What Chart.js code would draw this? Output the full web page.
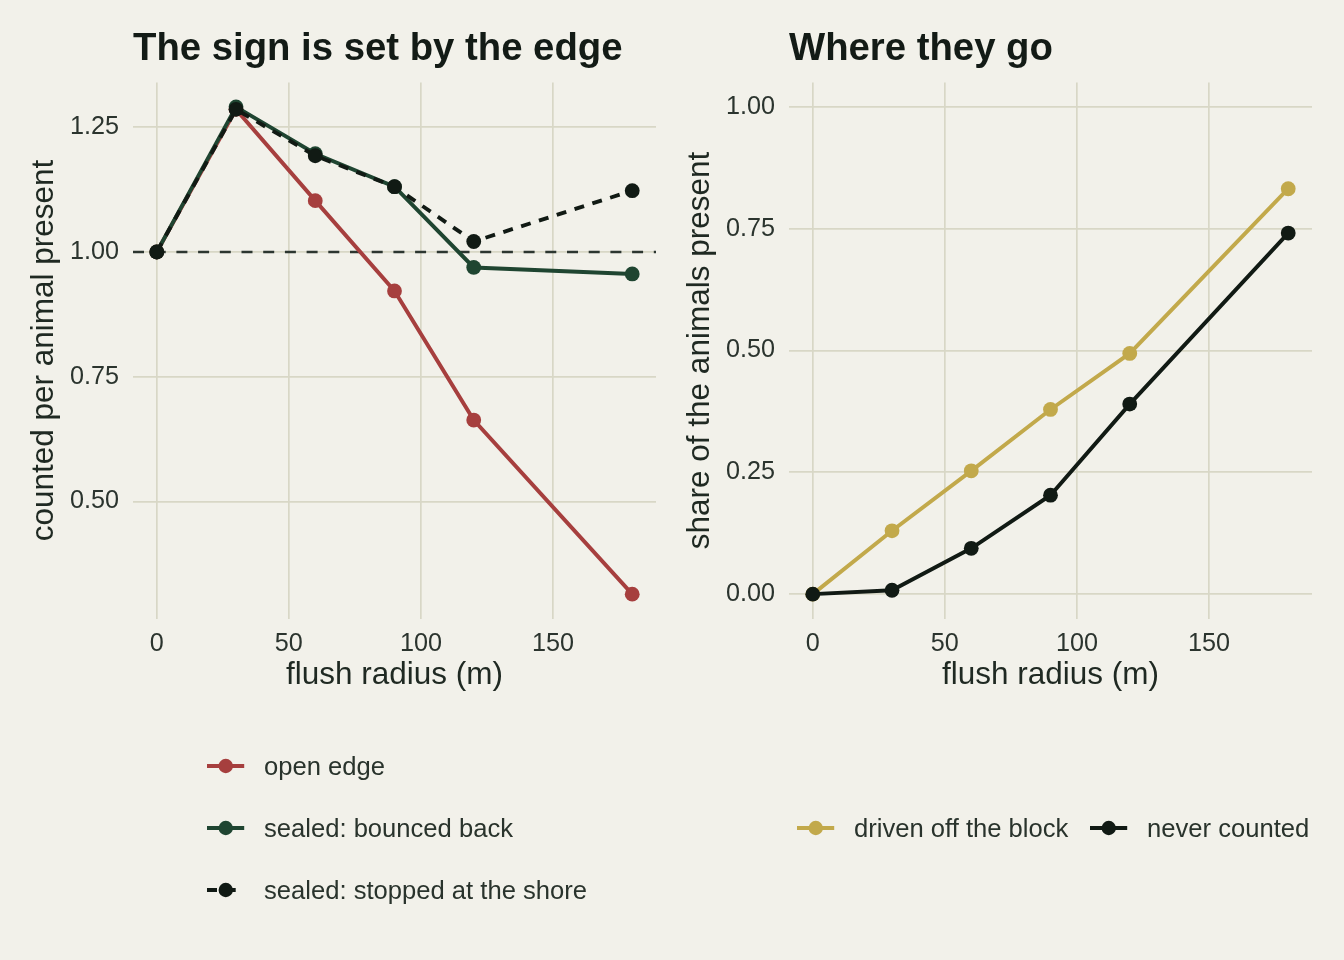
<!DOCTYPE html>
<html><head><meta charset="utf-8">
<script src="https://cdn.jsdelivr.net/npm/chart.js@4.4.1/dist/chart.umd.min.js"></script>
<style>
html,body{margin:0;padding:0;background:#F2F1EA;}
#root{position:relative;width:1344px;height:960px;overflow:hidden;background:#F2F1EA;font-family:"Liberation Sans",Arial,Helvetica,sans-serif;}
.panel{position:absolute;top:0;width:672px;height:720px;}
.title{position:absolute;top:25px;font-weight:bold;font-size:38.3px;line-height:44px;color:#131B16;white-space:nowrap;}
.lg{position:absolute;font-size:25.6px;line-height:30px;color:#29332C;white-space:nowrap;}
svg.keys{position:absolute;left:0;top:0;}
</style></head>
<body><div id="root">
<div class="panel" style="left:0"><canvas id="c1" width="672" height="720"></canvas></div>
<div class="panel" style="left:656px"><canvas id="c2" width="672" height="720"></canvas></div>
<div class="title" style="left:133px">The sign is set by the edge</div>
<div class="title" style="left:789px">Where they go</div>
<svg class="keys" width="1344" height="960" id="keys"></svg>
<div class="lg" style="left:264px;top:750.6px">open edge</div>
<div class="lg" style="left:264px;top:812.6px">sealed: bounced back</div>
<div class="lg" style="left:264px;top:874.6px">sealed: stopped at the shore</div>
<div class="lg" style="left:854px;top:812.6px">driven off the block</div>
<div class="lg" style="left:1147px;top:812.6px">never counted</div>
</div>
<script>
// ---- data ----
const radius = [0, 30, 60, 90, 120, 180];
const openEdge     = [1.000, 1.286, 1.103, 0.922, 0.663, 0.314];
const bouncedBack  = [1.000, 1.291, 1.197, 1.131, 0.969, 0.956];
const stoppedShore = [1.000, 1.286, 1.193, 1.131, 1.021, 1.123];
const drivenOff    = [0.000, 0.130, 0.253, 0.379, 0.494, 0.832];
const neverCounted = [0.000, 0.008, 0.094, 0.203, 0.390, 0.741];
const xTicks = [0, 50, 100, 150];
const leftYTicks = [0.50, 0.75, 1.00, 1.25];
const rightYTicks = [0.00, 0.25, 0.50, 0.75, 1.00];
const referenceLevel = 1.0;
const xLimits = [0, 180];
const rightYLimits = [0, 1];

// ---- style ----
const FAM = '"Liberation Sans", Arial, Helvetica, sans-serif';
const RED = '#A63F3E', GREEN = '#1F4531', DARK = '#111A14', GOLD = '#C2A94B';
const GRID = '#D8D7C6', TICK = '#2B342E', AXT = '#1F2922';
const DASH = [10, 8.7];

function expand(lo, hi) { const d = (hi - lo) * 0.05; return [lo - d, hi + d]; }
const xLim = expand(xLimits[0], xLimits[1]);
const leftAll = openEdge.concat(bouncedBack, stoppedShore);
const leftYLim = expand(Math.min(...leftAll), Math.max(...leftAll));
const rightYLim = expand(rightYLimits[0], rightYLimits[1]);

const pts = arr => radius.map((r, i) => ({ x: r, y: arr[i] }));

function series(data, color, order, dash) {
  return {
    data: pts(data), borderColor: color, backgroundColor: color,
    pointBackgroundColor: color, pointBorderWidth: 0, pointRadius: 7.4, pointHoverRadius: 7.4,
    borderWidth: 3.9, tension: 0, order: order, borderDash: dash || [], fill: false
  };
}

const refLine = {
  id: 'refLine',
  beforeDatasetsDraw(chart, args, opts) {
    if (opts.value == null) return;
    const { ctx, chartArea, scales: { y } } = chart;
    const py = y.getPixelForValue(opts.value);
    ctx.save();
    ctx.strokeStyle = opts.color; ctx.lineWidth = opts.width; ctx.setLineDash(opts.dash);
    ctx.beginPath(); ctx.moveTo(chartArea.left, py); ctx.lineTo(chartArea.right, py); ctx.stroke();
    ctx.restore();
  }
};

function makeOptions(yLim, yTicks, yTitle, ref) {
  return {
    responsive: false, animation: false, events: [],
    layout: { padding: { left: 25.2, top: 82.5, right: 16, bottom: 25.3 } },
    plugins: {
      legend: { display: false }, tooltip: { enabled: false }, title: { display: false },
      refLine: ref
    },
    scales: {
      x: {
        type: 'linear', min: xLim[0], max: xLim[1],
        afterBuildTicks: s => { s.ticks = xTicks.map(v => ({ value: v })); },
        afterFit: s => { s.height = 76.2; },
        grid: { color: GRID, lineWidth: 1.7, drawTicks: false },
        border: { display: false },
        ticks: { padding: 10, color: TICK, maxRotation: 0, autoSkip: false,
          font: { family: FAM, size: 25.2, lineHeight: 1.2 }, callback: v => String(v) },
        title: { display: true, text: 'flush radius (m)', color: AXT, padding: 0,
          font: { family: FAM, size: 31.5, lineHeight: 1.2 } }
      },
      y: {
        type: 'linear', min: yLim[0], max: yLim[1],
        afterBuildTicks: s => { s.ticks = yTicks.map(v => ({ value: v })); },
        afterFit: s => { s.width = 107.8; },
        grid: { color: GRID, lineWidth: 1.7, drawTicks: false },
        border: { display: false },
        ticks: { padding: 14, color: TICK, autoSkip: false,
          font: { family: FAM, size: 25.2, lineHeight: 1.2 }, callback: v => Number(v).toFixed(2) },
        title: { display: true, text: yTitle, color: AXT, padding: 0,
          font: { family: FAM, size: 31.5, lineHeight: 1.2 } }
      }
    }
  };
}

new Chart(document.getElementById('c1'), {
  type: 'line',
  data: { datasets: [
    series(openEdge, RED, 3),
    series(bouncedBack, GREEN, 2),
    series(stoppedShore, DARK, 1, DASH)
  ] },
  options: makeOptions(leftYLim, leftYTicks, 'counted per animal present',
    { value: referenceLevel, color: '#2C3630', width: 2.3, dash: [11, 10.7] }),
  plugins: [refLine]
});

new Chart(document.getElementById('c2'), {
  type: 'line',
  data: { datasets: [
    series(drivenOff, GOLD, 2),
    series(neverCounted, DARK, 1)
  ] },
  options: makeOptions(rightYLim, rightYTicks, 'share of the animals present', { value: null }),
  plugins: [refLine]
});

// ---- legend keys ----
const keys = [
  { x: 207, y: 766, c: RED }, { x: 207, y: 828, c: GREEN }, { x: 207, y: 890, c: DARK, d: true },
  { x: 797, y: 828, c: GOLD }, { x: 1090, y: 828, c: DARK }
];
const svg = document.getElementById('keys');
let s = '';
keys.forEach(k => {
  s += `<line x1="${k.x}" y1="${k.y}" x2="${k.x + 37.2}" y2="${k.y}" stroke="${k.c}" stroke-width="3.9"${k.d ? ' stroke-dasharray="10 8.7"' : ''}/>`;
  s += `<circle cx="${k.x + 18.75}" cy="${k.y}" r="7.2" fill="${k.c}"/>`;
});
svg.innerHTML = s;
</script>
</body></html>
